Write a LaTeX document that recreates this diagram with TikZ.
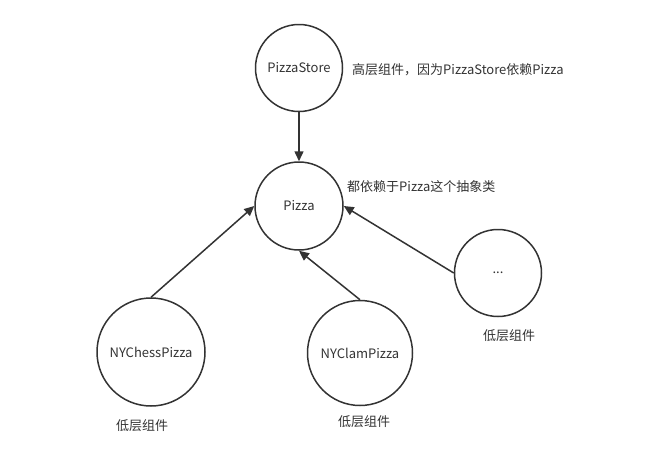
\documentclass[tikz,border=0pt]{standalone}
\usepackage{fontspec}
\setmainfont{Noto Sans CJK SC}
\usetikzlibrary{arrows.meta}
\definecolor{ink}{HTML}{333333}
\begin{document}
\begin{tikzpicture}[x=1pt,y=-1pt,
  circ/.style={circle,draw=ink,line width=1.5pt,inner sep=0pt,text=ink,font=\fontsize{13}{15}\selectfont},
  lbl/.style={text=ink,font=\fontsize{13}{15}\selectfont,inner sep=0pt},
  dep/.style={draw=ink,line width=1.5pt,-{Triangle[length=10pt,width=9pt]}}]
\useasboundingbox (0,0) rectangle (650,466);
\node[circ,minimum size=87pt] (store) at (299,68) {PizzaStore};
\node[circ,minimum size=88pt] (pizza) at (299,206) {Pizza};
\node[circ,minimum size=108pt] (chess) at (151,352) {NYChessPizza};
\node[circ,minimum size=105pt] (clam) at (360,353) {NYClamPizza};
\node[circ,minimum size=87pt] (etc) at (498,273) {...};
\node[lbl,anchor=west] (t1) at (352,70) {高层组件，因为PizzaStore依赖Pizza};
\node[lbl,anchor=west] (t2) at (347,187) {都依赖于Pizza这个抽象类};
\node[lbl] (l1) at (142,426) {低层组件};
\node[lbl] (l2) at (364,422) {低层组件};
\node[lbl] (l3) at (509,336) {低层组件};
\draw[dep] (store.south) -- (pizza.north);
\draw[dep] (chess.north) -- (pizza.west);
\draw[dep] (clam.north) -- (pizza.south);
\draw[dep] (etc.west) -- (pizza.east);
\end{tikzpicture}
\end{document}
